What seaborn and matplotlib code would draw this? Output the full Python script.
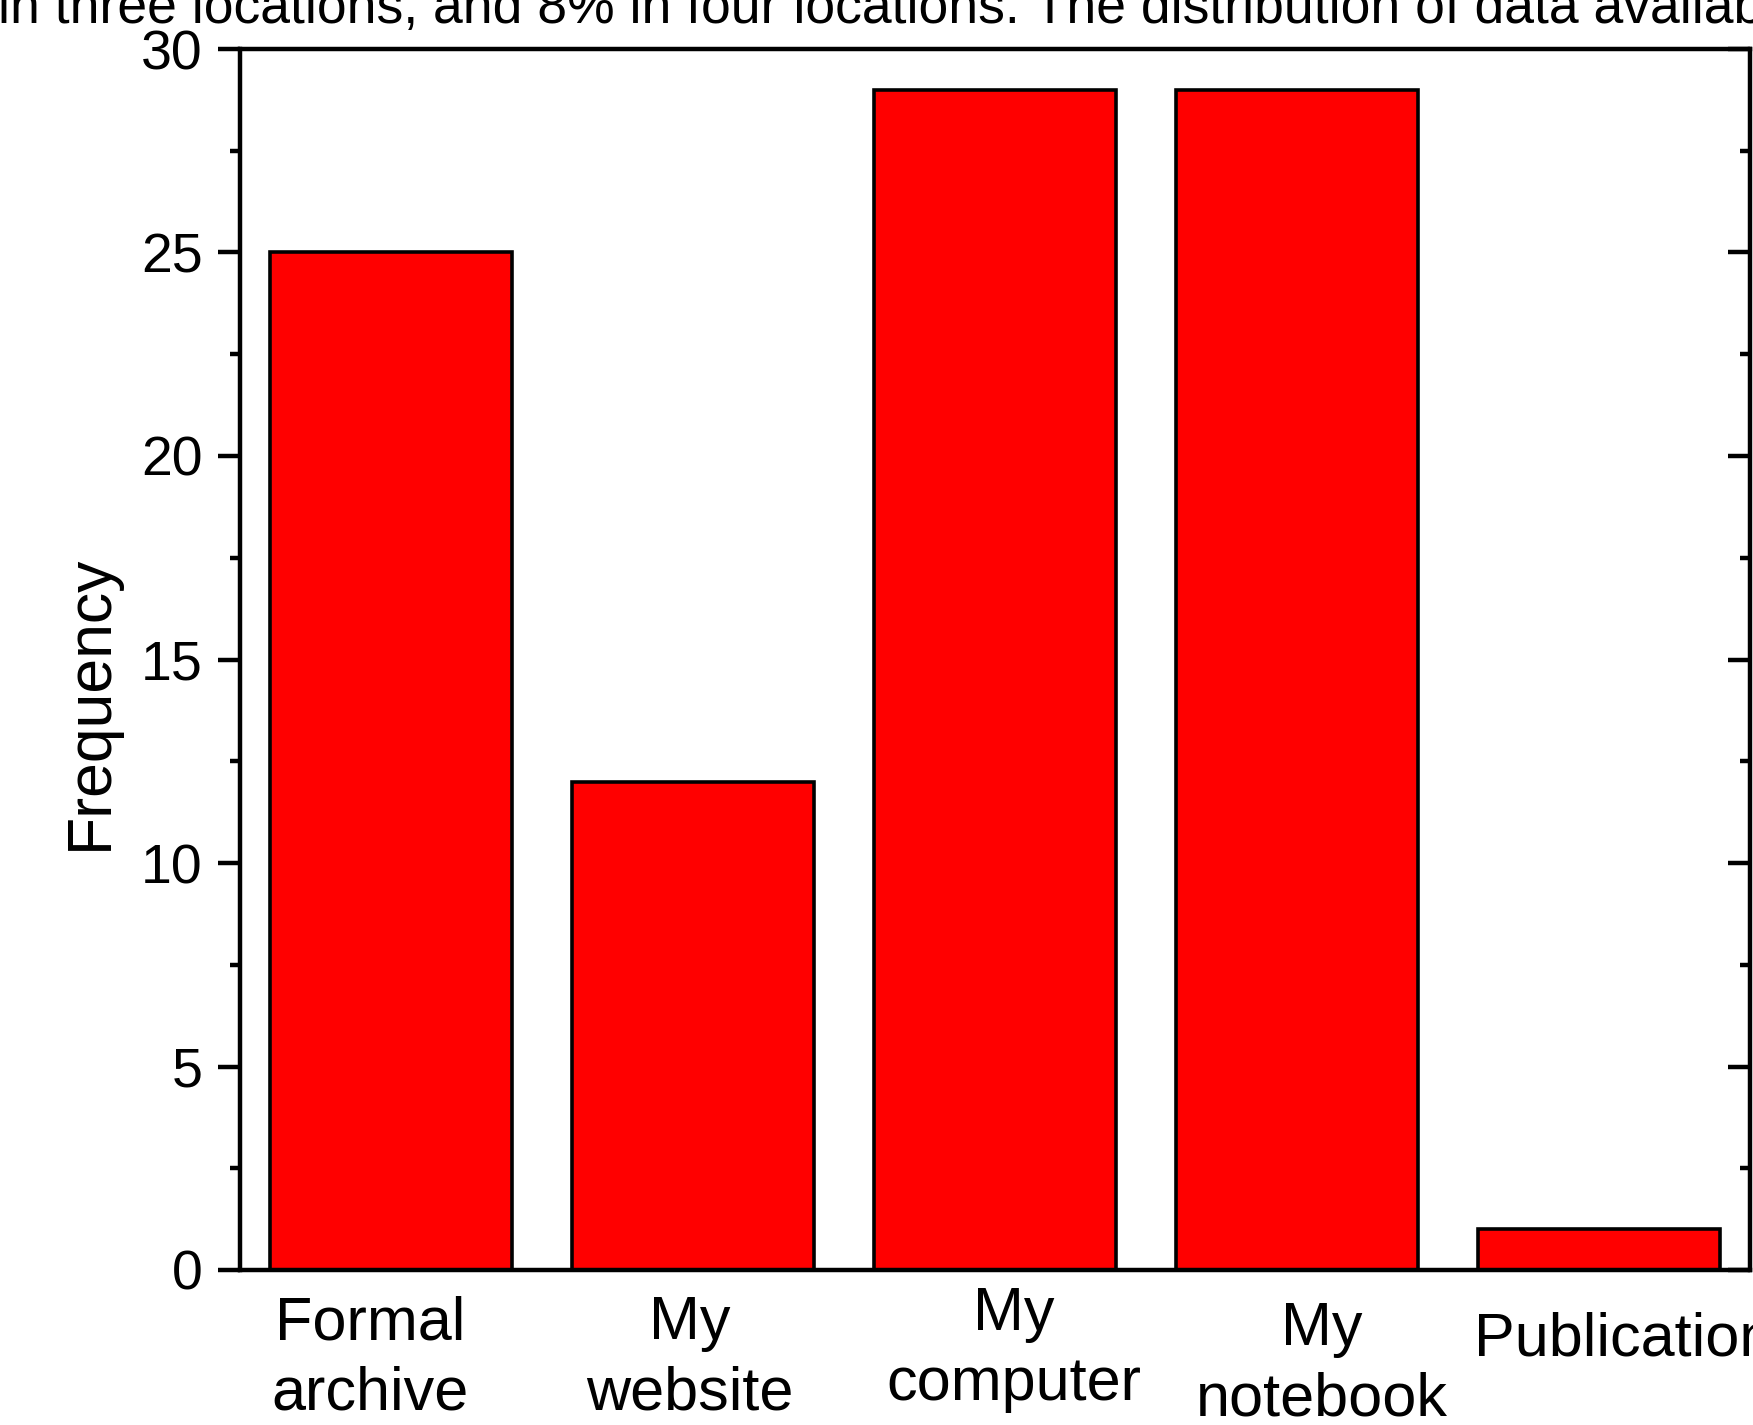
import matplotlib
matplotlib.use("Agg")
import matplotlib.pyplot as plt
import matplotlib.transforms as mtransforms
import pandas as pd
import seaborn as sns

# dati
categorie = ["Formal\narchive", "My\nwebsite", "My\ncomputer", "My\nnotebook", "Publication"]
frequenze = [25, 12, 29, 29, 1]
yticks = [0, 5, 10, 15, 20, 25, 30]
testo_sopra = "in three locations, and 8% in four locations. The distribution of data availab"

df = pd.DataFrame({"luogo": categorie, "freq": frequenze})

sns.set_style("ticks")
plt.rcParams["font.family"] = ["Liberation Sans", "DejaVu Sans"]
plt.rcParams["text.color"] = "black"
plt.rcParams["axes.labelcolor"] = "black"
plt.rcParams["xtick.color"] = "black"
plt.rcParams["ytick.color"] = "black"

fig = plt.figure(figsize=(17.53, 14.25), dpi=100)
ax = fig.add_axes([240 / 1753, 155 / 1425, 1510 / 1753, 1221 / 1425])

sns.barplot(data=df, x="luogo", y="freq", color="#ff0000", saturation=1,
            edgecolor="black", linewidth=2.6, width=0.8, ax=ax)

ax.set_xlim(-0.5, 4.5)
ax.set_ylim(0, 30)
ax.set_yticks(yticks)
ax.set_yticks([2.5, 7.5, 12.5, 17.5, 22.5, 27.5], minor=True)
ax.set_xlabel("")
ax.set_ylabel("Frequency", fontsize=45)
ax.yaxis.set_label_coords(-0.0795, 0.465)

for lato in ["left", "right", "top", "bottom"]:
    ax.spines[lato].set_visible(True)
    ax.spines[lato].set_linewidth(3.2)
    ax.spines[lato].set_color("black")

ax.tick_params(axis="y", which="major", direction="out", length=16, width=3.2,
               labelsize=40, pad=11, right=True)
ax.tick_params(axis="y", which="minor", direction="out", length=7, width=3.2, right=True)
ax.tick_params(axis="x", which="both", length=0, labelsize=44, pad=18)

# tacche a destra verso l'interno
for t in ax.yaxis.get_major_ticks() + ax.yaxis.get_minor_ticks():
    t.tick2line.set_marker(matplotlib.lines.TICKLEFT)

# spostamenti delle etichette (pixel) come nell'originale
spost = [(-21, 0), (-3, 0), (19, -9), (25, 6), (25, 17)]
for lab, (dx, dy) in zip(ax.get_xticklabels(), spost):
    lab.set_linespacing(1.3)
    off = mtransforms.ScaledTranslation(dx / 100, -dy / 100, fig.dpi_scale_trans)
    lab.set_transform(lab.get_transform() + off)

fig.text(-0.001, 1 - 23 / 1425, testo_sopra, fontsize=38.5, ha="left", va="baseline")

fig.savefig("out.png", dpi=100)
